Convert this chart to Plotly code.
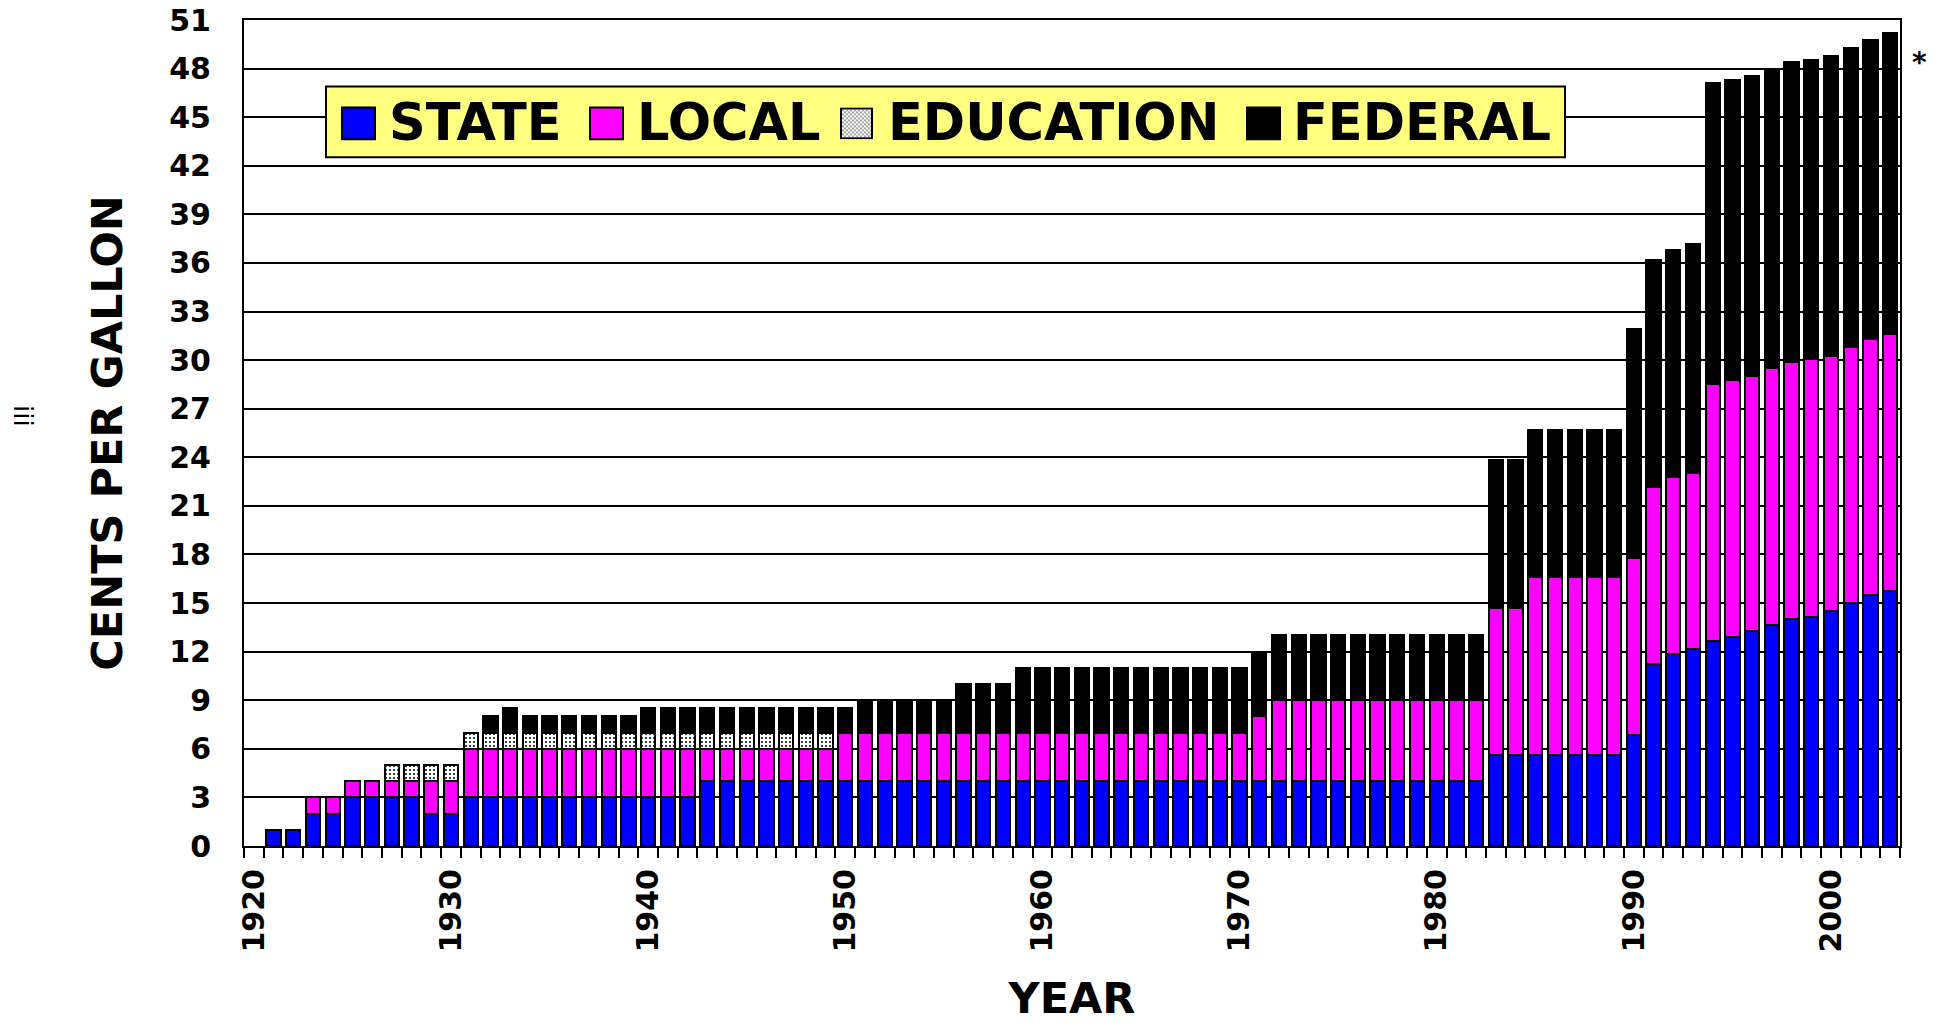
import base64
import plotly.graph_objects as go

years = list(range(1920, 2004))

state = [
    0, 1, 1, 2, 2, 3, 3, 3, 3, 2,
    2, 3, 3, 3, 3, 3, 3, 3, 3, 3,
    3, 3, 3, 4, 4, 4, 4, 4, 4, 4,
    4, 4, 4, 4, 4, 4, 4, 4, 4, 4,
    4, 4, 4, 4, 4, 4, 4, 4, 4, 4,
    4, 4, 4, 4, 4, 4, 4, 4, 4, 4,
    4, 4, 4, 5.63, 5.63, 5.63, 5.63, 5.63, 5.63, 5.63,
    6.88, 11.26, 11.88, 12.14, 12.65, 12.92, 13.27, 13.64, 14.0, 14.15,
    14.49, 15.0, 15.49, 15.73,
]
local = [
    0, 0, 0, 1, 1, 1, 1, 1, 1, 2,
    2, 3, 3, 3, 3, 3, 3, 3, 3, 3,
    3, 3, 3, 2, 2, 2, 2, 2, 2, 2,
    3, 3, 3, 3, 3, 3, 3, 3, 3, 3,
    3, 3, 3, 3, 3, 3, 3, 3, 3, 3,
    3, 4, 5, 5, 5, 5, 5, 5, 5, 5,
    5, 5, 5, 9.05, 9.05, 10.98, 10.98, 10.98, 10.98, 10.98,
    10.9, 10.89, 10.9, 10.91, 15.87, 15.88, 15.76, 15.9, 15.9, 15.89,
    15.79, 15.78, 15.79, 15.9,
]
education = [
    0, 0, 0, 0, 0, 0, 0, 1, 1, 1,
    1, 1, 1, 1, 1, 1, 1, 1, 1, 1,
    1, 1, 1, 1, 1, 1, 1, 1, 1, 1,
    0, 0, 0, 0, 0, 0, 0, 0, 0, 0,
    0, 0, 0, 0, 0, 0, 0, 0, 0, 0,
    0, 0, 0, 0, 0, 0, 0, 0, 0, 0,
    0, 0, 0, 0, 0, 0, 0, 0, 0, 0,
    0, 0, 0, 0, 0, 0, 0, 0, 0, 0,
    0, 0, 0, 0,
]
federal = [
    0, 0, 0, 0, 0, 0, 0, 0, 0, 0,
    0, 0, 1, 1.5, 1, 1, 1, 1, 1, 1,
    1.5, 1.5, 1.5, 1.5, 1.5, 1.5, 1.5, 1.5, 1.5, 1.5,
    1.5, 2, 2, 2, 2, 2, 3, 3, 3, 4,
    4, 4, 4, 4, 4, 4, 4, 4, 4, 4,
    4, 4, 4, 4, 4, 4, 4, 4, 4, 4,
    4, 4, 4, 9.14, 9.14, 9.09, 9.09, 9.09, 9.09, 9.09,
    14.15, 14.02, 14.01, 14.11, 18.56, 18.52, 18.53, 18.38, 18.52, 18.5,
    18.51, 18.51, 18.51, 18.54,
]

series_names = ["STATE", "LOCAL", "EDUCATION", "FEDERAL"]
y_ticks = list(range(0, 52, 3))
x_ticks = list(range(1920, 2001, 10))

FONT = "DejaVu Sans"
X_RANGE = [1919.5, 2003.5]
Y_RANGE = [0, 51]


def nz(vals):
    return [v if v else None for v in vals]


edge = dict(color="black", width=2)
fig = go.Figure()
fig.add_bar(x=years, y=nz(state), name=series_names[0],
            marker=dict(color="#0000FF", line=edge))
fig.add_bar(x=years, y=nz(local), name=series_names[1],
            marker=dict(color="#FF00FF", line=edge))
fig.add_bar(x=years, y=nz(education), name=series_names[2],
            marker=dict(color="white", line=edge,
                        pattern=dict(shape=".", fgcolor="black", bgcolor="white",
                                     size=4, solidity=0.2, fillmode="replace")))
fig.add_bar(x=years, y=nz(federal), name=series_names[3],
            marker=dict(color="#000000", line=edge))

fig.update_layout(
    barmode="stack",
    bargap=0.28,
    width=1938, height=1023,
    margin=dict(l=244, r=38, t=20, b=177, autoexpand=False),
    paper_bgcolor="white",
    plot_bgcolor="white",
    showlegend=False,
    font=dict(family=FONT, color="black"),
)

fig.update_xaxes(
    range=X_RANGE,
    tickmode="array", tickvals=x_ticks, ticktext=[str(v) for v in x_ticks],
    tickangle=-90,
    ticks="",
    ticklabelstandoff=9,
    tickfont=dict(family=FONT, size=30, weight="bold", color="black"),
    minor=dict(ticks="outside", ticklen=10, tickwidth=2, tickcolor="black",
               dtick=1, tick0=1919.5, showgrid=False),
    showgrid=False, zeroline=False,
    showline=True, linecolor="black", linewidth=2, mirror=True,
    title=dict(text="YEAR", font=dict(family=FONT, size=43, weight="bold", color="black"),
               standoff=47),
)
fig.update_yaxes(
    range=Y_RANGE,
    tickmode="array", tickvals=y_ticks,
    ticks="",
    ticklabelstandoff=25,
    tickfont=dict(family=FONT, size=30, weight="bold", color="black"),
    showgrid=True, gridcolor="black", gridwidth=2,
    zeroline=False,
    showline=True, linecolor="black", linewidth=2, mirror=True,
    title=dict(text="CENTS PER GALLON",
               font=dict(family=FONT, size=43, weight="bold", color="black"),
               standoff=33),
)

# ---- custom legend (pixel placement converted to axis / paper units) ----
W, H = 1656.0, 827.0
X0, Y0 = 244.0, 846.5


def px_x(p):
    return (p - X0) / W


def px_y(p):
    return (Y0 - p) / H


def dx(p):
    return X_RANGE[0] + px_x(p) * (X_RANGE[1] - X_RANGE[0])


def dy(p):
    return Y_RANGE[0] + px_y(p) * (Y_RANGE[1] - Y_RANGE[0])


shapes = [dict(type="rect", xref="x", yref="y", layer="between",
               x0=dx(326), x1=dx(1565), y0=dy(157), y1=dy(86),
               fillcolor="#FFFF80", line=dict(color="black", width=2))]

swatches = [(342, "#0000FF"), (590, "#FF00FF"), (840, None), (1247, "#000000")]
text_left = [390, 638, 889, 1294]
sw_top, sw_bot = 107, 139
for (sx, col) in swatches:
    if col is not None:
        shapes.append(dict(type="rect", xref="paper", yref="paper", layer="above",
                           x0=px_x(sx), x1=px_x(sx + 33), y0=px_y(sw_bot), y1=px_y(sw_top),
                           fillcolor=col, line=dict(color="black", width=2)))
fig.update_layout(shapes=shapes)

svg = ("<svg xmlns='http://www.w3.org/2000/svg' width='33' height='32' viewBox='0 0 33 32'>"
       "<defs><pattern id='p' width='4' height='4' patternUnits='userSpaceOnUse'>"
       "<rect width='4' height='4' fill='white'/>"
       "<circle cx='1' cy='1' r='0.7' fill='black'/>"
       "<circle cx='3' cy='3' r='0.7' fill='black'/></pattern></defs>"
       "<rect x='1' y='1' width='31' height='30' fill='url(#p)' stroke='black' stroke-width='2'/>"
       "</svg>")
uri = "data:image/svg+xml;base64," + base64.b64encode(svg.encode()).decode()
fig.add_layout_image(dict(source=uri, xref="paper", yref="paper",
                          x=px_x(840), y=px_y(sw_top), sizex=33 / W, sizey=32 / H,
                          xanchor="left", yanchor="top", sizing="stretch", layer="above"))

for name, tx in zip(series_names, text_left):
    fig.add_annotation(text=name, xref="paper", yref="paper", x=px_x(tx - 3), y=px_y(122),
                       xanchor="left", yanchor="middle", showarrow=False,
                       font=dict(family=FONT, size=51, weight="bold", color="black"))

fig.add_annotation(text="*", xref="paper", yref="paper", x=px_x(1919), y=px_y(62),
                   xanchor="center", yanchor="middle", showarrow=False,
                   font=dict(family=FONT, size=28, weight="bold", color="black"))
fig.add_annotation(text="iii", xref="paper", yref="paper", x=px_x(23), y=px_y(416),
                   xanchor="center", yanchor="middle", showarrow=False, textangle=90,
                   font=dict(family=FONT, size=26, color="black"))

fig.write_html("out.html")
